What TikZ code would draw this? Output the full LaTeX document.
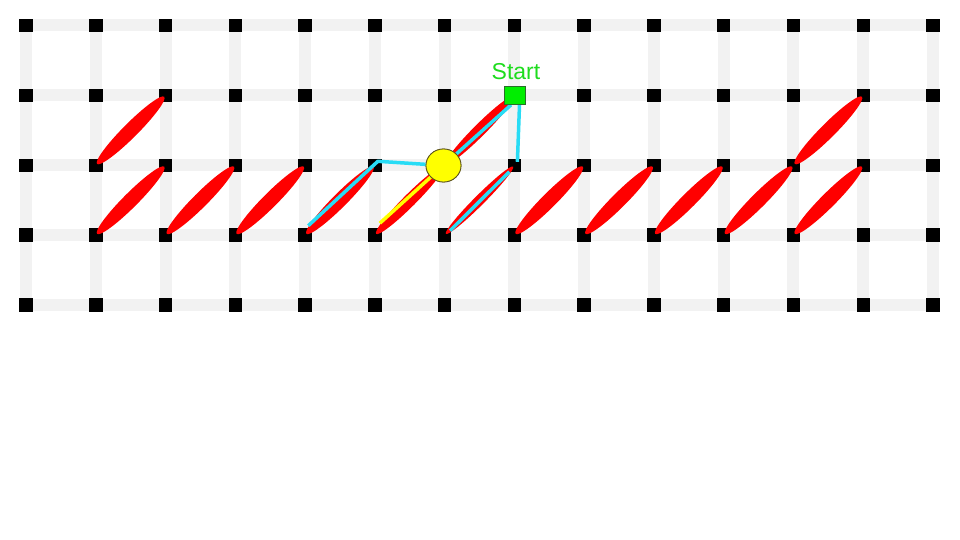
\documentclass[tikz,border=0pt]{standalone}
\usepackage{fontspec}
\setmainfont{Liberation Sans}
\usetikzlibrary{shapes.geometric,calc}
\definecolor{gridgray}{RGB}{242,242,242}
\definecolor{leafred}{RGB}{255,0,0}
\definecolor{pathcyan}{RGB}{40,220,245}
\definecolor{startgreen}{RGB}{0,238,0}
\definecolor{startborder}{RGB}{40,110,40}
\definecolor{labelgreen}{RGB}{30,220,30}
\definecolor{agentyellow}{RGB}{255,255,0}
\definecolor{agentborder}{RGB}{90,80,30}
\tikzset{
  gridline/.style={draw=gridgray,line width=12pt},
  sq/.style={rectangle,fill=black,minimum size=13.5pt,inner sep=0pt},
  leaf/.style={fill=leafred},
  cyanline/.style={draw=pathcyan,line width=3.5pt},
  yellowline/.style={draw=agentyellow,line width=3.5pt},
  agentnode/.style={ellipse,fill=agentyellow,draw=agentborder,line width=0.8pt,minimum width=35pt,minimum height=33pt,inner sep=0pt},
  startnode/.style={rectangle,fill=startgreen,draw=startborder,line width=0.8pt,minimum width=21pt,minimum height=18pt,inner sep=0pt},
  startlabel/.style={text=labelgreen,font=\fontsize{23}{26}\selectfont,anchor=base,inner sep=0pt}
}
\begin{document}
\begin{tikzpicture}[x=1pt,y=-1pt]
\useasboundingbox (0,0) rectangle (960,540);
% grid coordinates
\foreach \i in {0,...,13}{
  \foreach \j in {0,...,4}{
    \coordinate (g-\i-\j) at ({26+69.77*\i},{25.5+69.9*\j});
  }
}
% gray grid lines
\foreach \j in {0,...,4}{ \draw[gridline] (g-0-\j) -- (g-13-\j); }
\foreach \i in {0,...,13}{ \draw[gridline] (g-\i-0) -- (g-\i-4); }
% black squares
\foreach \i in {0,...,13}{
  \foreach \j in {0,...,4}{
    \node[sq] (s-\i-\j) at (g-\i-\j) {};
  }
}
% red leaves (bottom-left col,row / top-right col,row / half width)
\foreach \a/\b/\c/\d/\w in {1/2/2/1/7.2, 1/3/2/2/7.2, 2/3/3/2/7.2, 3/3/4/2/7.2,
  4/3/5/2/7, 5/3/6/2/6.2, 6/2/7/1/6, 6/3/7/2/5, 7/3/8/2/7.2, 8/3/9/2/7.2,
  9/3/10/2/7.2, 10/3/11/2/7.2, 11/3/12/2/7.2, 11/2/12/1/7.2}{
  \fill[leaf] ($(g-\a-\b)!0.5!(g-\c-\d)$) circle[x radius=47.5pt,y radius=\w pt,rotate=45];
}
% agent and start
\node[agentnode] (agent) at (443.5,165.5) {};
\node[startnode] (start) at (515,95.5) {};
\node[startlabel] (startlbl) at (516,80) {Start};
% path coordinates
\coordinate (c1a) at ([xshift=-4pt]start.south);
\coordinate (c2a) at ([xshift=4.5pt]start.south);
\coordinate (c2b) at ([xshift=3pt,yshift=3.5pt]s-7-2.center);
\coordinate (corner) at ([xshift=3pt,yshift=4pt]g-5-2);
\coordinate (c4b) at ([xshift=3.2pt,yshift=9.5pt]g-4-3);
\coordinate (c5a) at ([xshift=5.4pt,yshift=4.5pt]g-6-3);
\coordinate (c5b) at ([xshift=-5pt,yshift=-6.4pt]g-7-2);
\coordinate (y1) at ([xshift=5pt,yshift=12pt]g-5-3);
% cyan lines
\draw[cyanline] (c1a) -- (agent);
\draw[cyanline] (c2a) -- (c2b);
\draw[cyanline,line join=round] (agent) -- (corner) -- (c4b);
\draw[cyanline] (c5a) -- (c5b);
% yellow line
\draw[yellowline] (y1) -- (agent);
% redraw agent and start on top
\node[agentnode] at (agent) {};
\node[startnode] at (start) {};
\end{tikzpicture}
\end{document}
